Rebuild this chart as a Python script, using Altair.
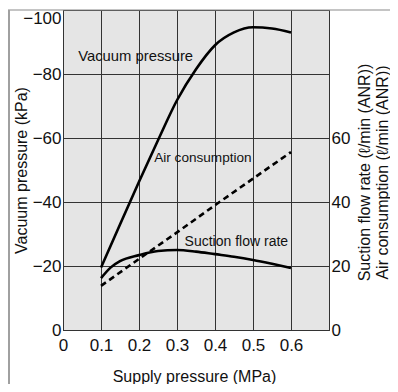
import altair as alt
import pandas as pd

# ---- data ----
supply = [0.1, 0.15, 0.2, 0.25, 0.3, 0.35, 0.4, 0.45, 0.5, 0.55, 0.6]
vacuum = [-19.5, -33, -46.3, -59.3, -71.8, -81.5, -89, -93, -94.6, -94.2, -93]
suction_x = [0.1, 0.125, 0.15, 0.2, 0.25, 0.3, 0.35, 0.4, 0.45, 0.5, 0.55, 0.6]
suction = [16.2, 19.5, 21.5, 23.4, 24.7, 25, 24.5, 23.7, 22.9, 21.9, 20.7, 19.4]
air_x = [0.1, 0.2, 0.3, 0.4, 0.5, 0.6]
air = [13.8, 22.2, 30.5, 39, 47.3, 55.6]
x_ticks = [0, 0.1, 0.2, 0.3, 0.4, 0.5, 0.6]
left_ticks = [0, -20, -40, -60, -80, -100]
right_ticks = [0, 20, 40, 60]
label_text = ["Vacuum pressure", "Air consumption", "Suction flow rate"]
label_x = [0.04, 0.24, 0.32]
label_y = [-85.3, -53.7, -27.5]
label_size = [14.8, 13.6, 14]

vac_df = pd.DataFrame({"x": supply, "y": vacuum})
suc_df = pd.DataFrame({"x": suction_x, "y": suction})
air_df = pd.DataFrame({"x": air_x, "y": air})
lab_df = pd.DataFrame({"x": label_x, "y": label_y, "t": label_text, "s": label_size})

FONT = "Liberation Sans"
GRID = "#333333"

x_enc = alt.X(
    "x:Q",
    scale=alt.Scale(domain=[0, 0.7], nice=False),
    axis=alt.Axis(
        values=x_ticks, format=".1~f", title="Supply pressure (MPa)",
        grid=True, gridColor=GRID, gridWidth=1, domainColor=GRID,
        ticks=False, labelPadding=7, labelFlush=False,
        labelFontSize=17, labelFont=FONT, labelColor="#111",
        titleFont=FONT, titleFontSize=16, titleFontWeight="normal",
        titleColor="#111", titleBaseline="alphabetic", titleY=51, titleX=131,
    ),
)

y_left = alt.Y(
    "y:Q",
    scale=alt.Scale(domain=[0, -100], nice=False),
    axis=alt.Axis(
        values=left_ticks, title="Vacuum pressure (kPa)",
        grid=True, gridColor=GRID, gridWidth=1, domainColor=GRID,
        ticks=False, labelPadding=2, labelFlush=False,
        labelBaseline={"condition": {"test": "datum.value == -100", "value": "top"}, "value": "middle"},
        labelFontSize=17, labelFont=FONT, labelColor="#111",
        titleFont=FONT, titleFontSize=16, titleFontWeight="normal", titleColor="#111",
        titleAngle=270, titleBaseline="alphabetic", titleAlign="center",
        titleX=-37, titleY=160,
    ),
)

y_right = alt.Y(
    "y:Q",
    scale=alt.Scale(domain=[0, 100], nice=False),
    axis=alt.Axis(
        orient="right", values=right_ticks,
        title=["Suction flow rate (ℓ/min (ANR))", "Air consumption (ℓ/min (ANR))"],
        grid=False, domainColor=GRID, ticks=False, labelPadding=2, labelFlush=False,
        labelFontSize=17, labelFont=FONT, labelColor="#111",
        titleFont=FONT, titleFontSize=16, titleFontWeight="normal", titleColor="#111",
        titleAngle=270, titleBaseline="alphabetic", titleAlign="center",
        titleLineHeight=18, titleX=40, titleY=162,
    ),
)

vac_line = alt.Chart(vac_df).mark_line(
    color="black", strokeWidth=2.6, interpolate="monotone"
).encode(x=x_enc, y=y_left)

labels = alt.Chart(lab_df).mark_text(
    align="left", baseline="middle", font=FONT, color="#111"
).encode(x="x:Q", y="y:Q", text="t:N", size=alt.Size("s:Q", scale=None, legend=None))

frame_df = pd.DataFrame({"a": [0]})
frame_top = alt.Chart(frame_df).mark_rule(color="#8a8a8a", strokeWidth=1.2).encode(
    x=alt.value(-55), x2=alt.value(340), y=alt.value(0)
)
frame_left = alt.Chart(frame_df).mark_rect(color="#a0a0a0").encode(
    x=alt.value(-55), x2=alt.value(-53), y=alt.value(0), y2=alt.value(390)
)

left_layer = alt.layer(vac_line, labels, frame_top, frame_left)

suc_line = alt.Chart(suc_df).mark_line(
    color="black", strokeWidth=2.6, interpolate="monotone"
).encode(x=alt.X("x:Q"), y=y_right)

air_line = alt.Chart(air_df).mark_line(
    color="black", strokeWidth=2.6, strokeDash=[6, 4]
).encode(x=alt.X("x:Q"), y=alt.Y("y:Q"))

right_layer = alt.layer(suc_line, air_line)

chart = (
    alt.layer(left_layer, right_layer)
    .resolve_scale(y="independent")
    .properties(
        width=266, height=320,
        autosize=alt.AutoSizeParams(type="none"),
        padding={"left": 55, "top": 2, "right": 61, "bottom": 54},
        background="white",
    )
    .configure_view(fill="#e5e5e5", stroke="#555555", strokeWidth=1)
)

chart.save("out.html", embed_options={"renderer": "svg", "actions": False})
